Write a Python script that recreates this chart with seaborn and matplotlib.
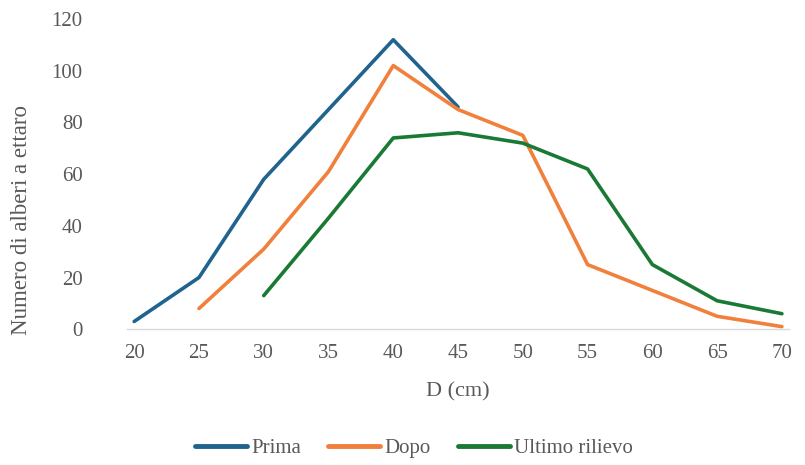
import pandas as pd
import numpy as np
import matplotlib.pyplot as plt
import seaborn as sns

# Dati
diametri = [20, 25, 30, 35, 40, 45, 50, 55, 60, 65, 70]
prima = [3, 20, 58, 85, 112, 86, None, None, None, None, None]
dopo = [None, 8, 31, 61, 102, 85, 75, 25, 15, 5, 1]
ultimo = [None, None, 13, 43, 74, 76, 72, 62, 25, 11, 6]
serie = ['Prima', 'Dopo', 'Ultimo rilievo']
colori = ['#20638F', '#F0803C', '#1A7A35']

df = pd.DataFrame({'D': diametri, 'Prima': prima, 'Dopo': dopo, 'Ultimo rilievo': ultimo})
df_long = df.melt(id_vars='D', var_name='Serie', value_name='N').dropna()

sns.set_style('white')
plt.rcParams['font.family'] = ['Liberation Serif', 'DejaVu Serif']
grigio = '#595959'

fig = plt.figure(figsize=(8.05, 4.65), dpi=100)
ax = fig.add_axes([0.158, 0.292, 0.822, 0.667])
sns.lineplot(data=df_long, x='D', y='N', hue='Serie', hue_order=serie,
             palette=colori, linewidth=2.6, ax=ax, legend=False)

ax.set_xlim(19.46, 70.54)
ax.set_ylim(0, 120)
ax.set_xticks(diametri)
ax.set_yticks(np.arange(0, 121, 20))
ax.tick_params(axis='both', length=0, labelsize=15, labelcolor=grigio)
ax.tick_params(axis='x', pad=11)
ax.tick_params(axis='y', pad=32)
for lato in ['top', 'right', 'left']:
    ax.spines[lato].set_visible(False)
ax.spines['bottom'].set_color('#D9D9D9')
ax.spines['bottom'].set_linewidth(1)

ax.set_xlabel('D (cm)', fontsize=16, color=grigio, va='center')
ax.xaxis.set_label_coords(0.5, -0.203)
ax.set_ylabel('Numero di alberi a ettaro', fontsize=16.5, color=grigio, va='center')
ax.yaxis.set_label_coords(-0.159, 0.352)

maniglie = [plt.Line2D([], [], color=c, linewidth=3.5) for c in colori]
fig.legend(maniglie, serie, loc='center', bbox_to_anchor=(0.514, 1 - 448 / 465), ncol=3,
           frameon=False, fontsize=15, labelcolor=grigio, handlelength=2.5,
           handletextpad=0.2, columnspacing=1.3)

fig.savefig('out.png', dpi=100)
